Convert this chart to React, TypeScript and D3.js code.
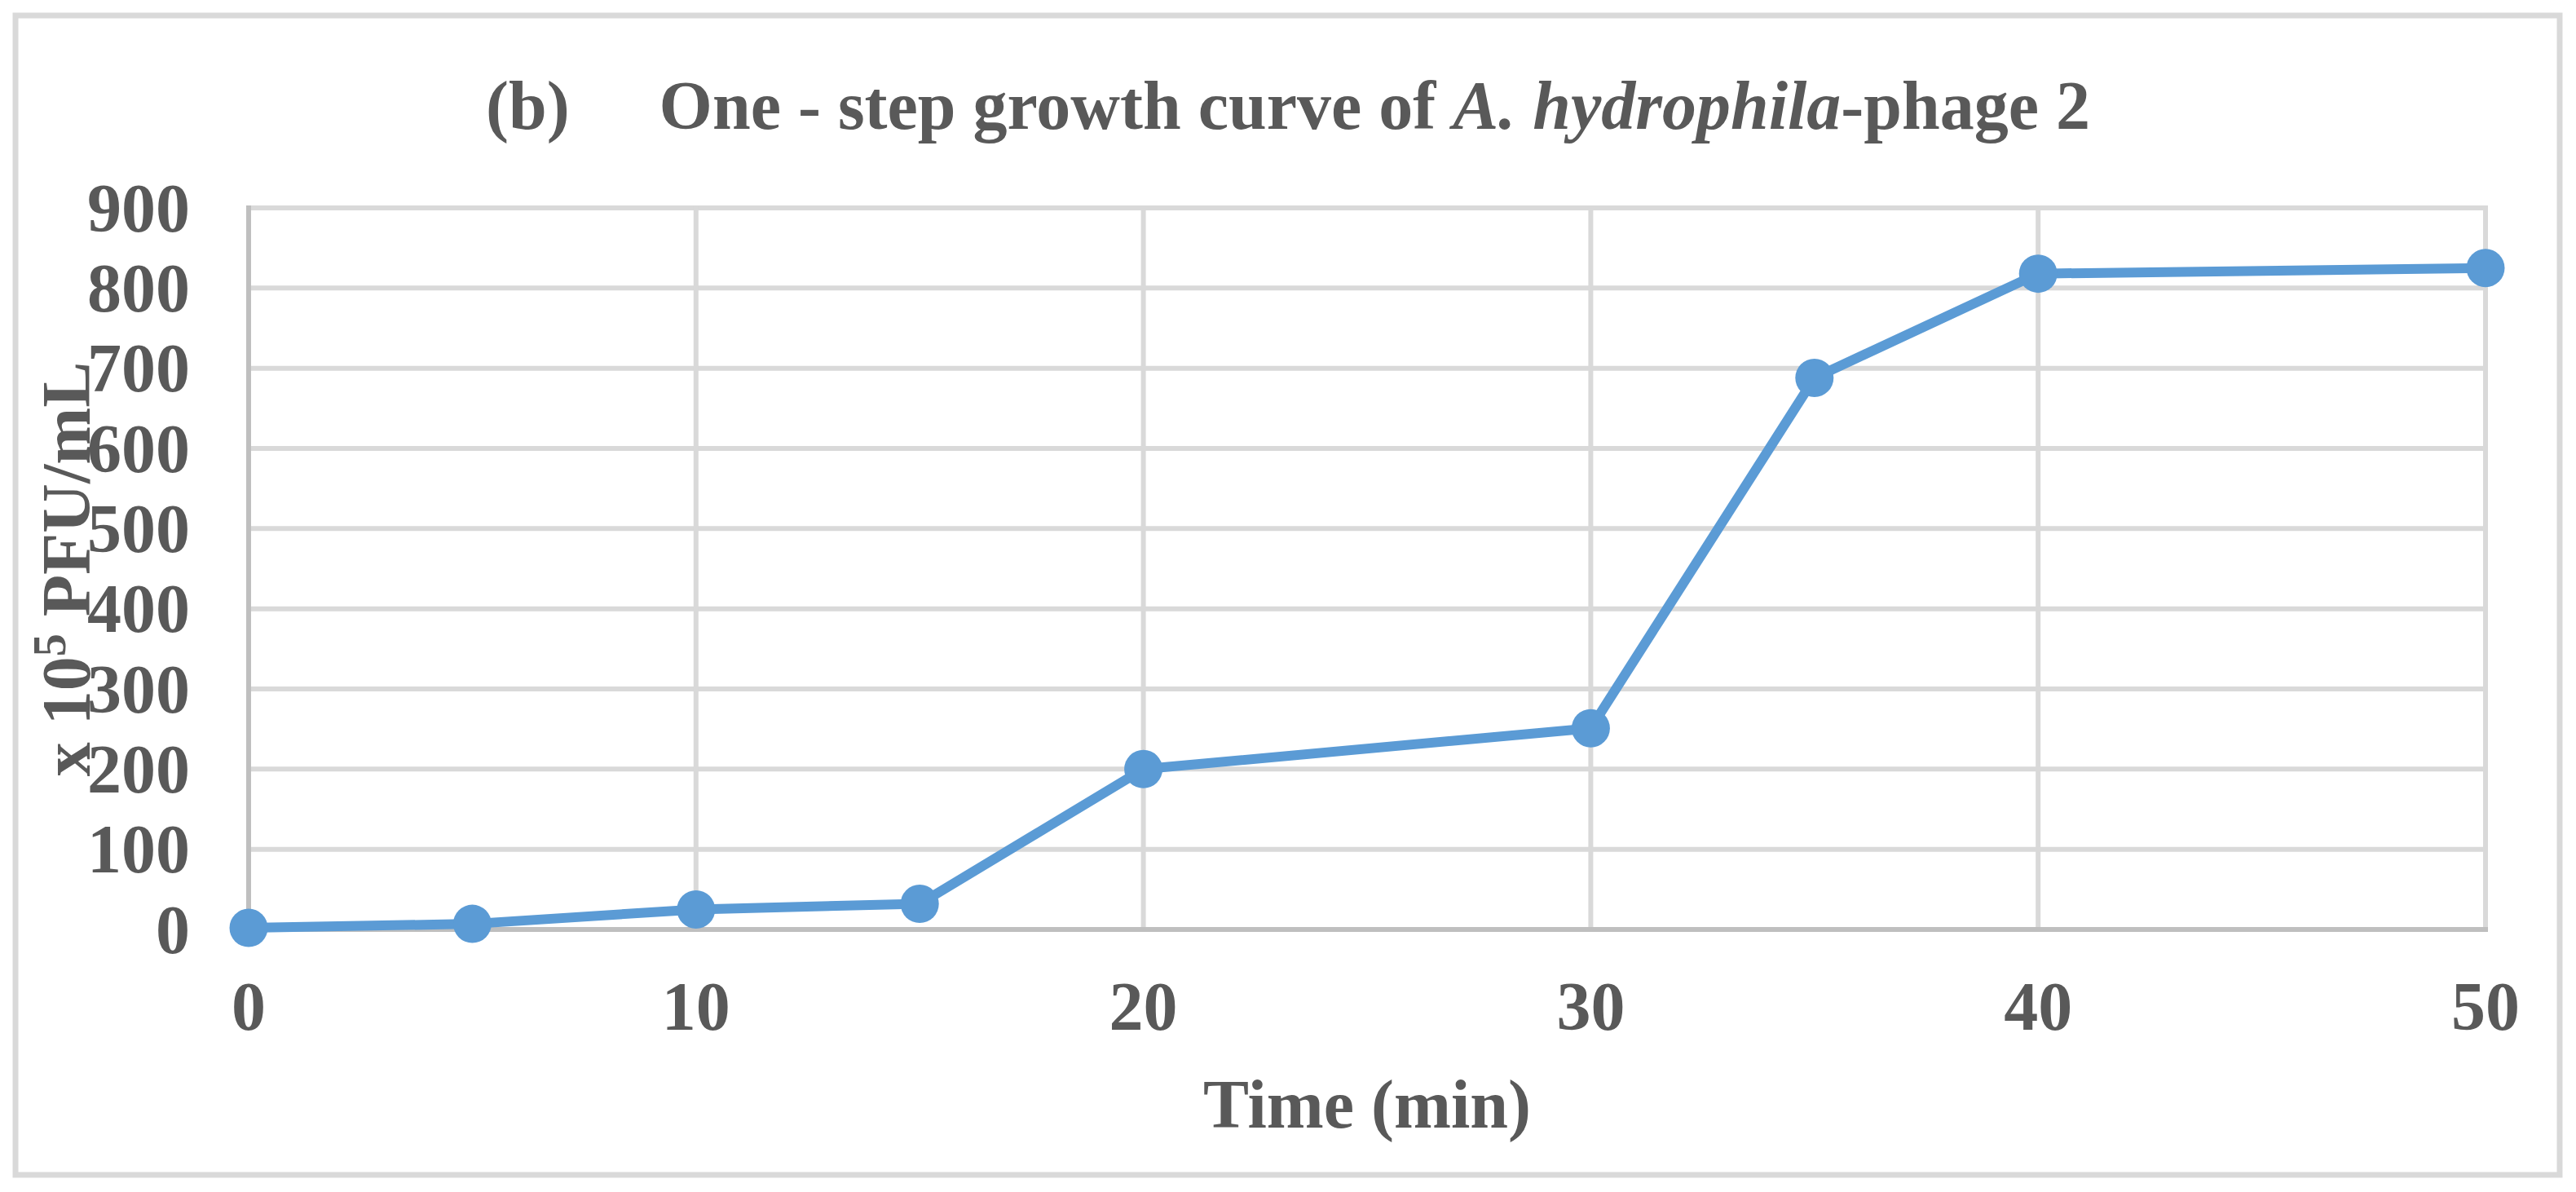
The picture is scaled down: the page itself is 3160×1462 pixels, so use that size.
import React from "react";
import * as d3 from "d3";

const times = [0, 5, 10, 15, 20, 30, 35, 40, 50];
const pfu = [2, 7, 25, 32, 200, 251, 688, 818, 825];
const xTicks = [0, 10, 20, 30, 40, 50];
const yTicks = [0, 100, 200, 300, 400, 500, 600, 700, 800, 900];

const W = 3160;
const H = 1462;
const FONT = "'Liberation Serif', 'Times New Roman', serif";
const TEXT = "#595959";
const GRID = "#d9d9d9";
const AXIS = "#bfbfbf";
const BLUE = "#5b9bd5";

export default function App() {
  const x = d3.scaleLinear().domain([0, 50]).range([305, 3049]);
  const y = d3.scaleLinear().domain([0, 900]).range([1140, 255]);
  const line = d3
    .line<number>()
    .x((_, i) => x(times[i]))
    .y((d) => y(d));
  const fs = 84;

  return (
    <svg
      width={W}
      height={H}
      style={{ position: "absolute", left: 0, top: 0, background: "#fff" }}
      fontFamily={FONT}
    >
      <rect x={0} y={0} width={W} height={H} fill="#fff" />
      <rect x={19} y={19} width={3121} height={1422} fill="none" stroke={GRID} strokeWidth={7} />

      {/* title */}
      <text x={1580} y={158} textAnchor="middle" fontSize={fs} fontWeight="bold" fill={TEXT}>
        <tspan>(b)</tspan>
        <tspan dx={110}>One - step growth curve of </tspan>
        <tspan fontStyle="italic">A. hydrophila</tspan>
        <tspan>-phage 2</tspan>
      </text>

      {/* grid */}
      {yTicks
        .filter((v) => v > 0)
        .map((v) => (
          <line key={"gy" + v} x1={x(0)} x2={x(50)} y1={y(v)} y2={y(v)} stroke={GRID} strokeWidth={6} />
        ))}
      {xTicks
        .filter((v) => v > 0)
        .map((v) => (
          <line key={"gx" + v} x1={x(v)} x2={x(v)} y1={y(900) - 3} y2={y(0)} stroke={GRID} strokeWidth={6} />
        ))}
      {/* axes */}
      <line x1={x(0)} x2={x(0)} y1={y(900) - 3} y2={y(0) + 3} stroke={AXIS} strokeWidth={6} />
      <line x1={x(0) - 3} x2={x(50) + 3} y1={y(0)} y2={y(0)} stroke={AXIS} strokeWidth={6} />

      {/* y tick labels */}
      {yTicks.map((v) => (
        <text
          key={"yl" + v}
          x={233}
          y={y(v) + 28.5}
          textAnchor="end"
          fontSize={fs}
          fontWeight="bold"
          fill={TEXT}
        >
          {v}
        </text>
      ))}
      {/* x tick labels */}
      {xTicks.map((v) => (
        <text
          key={"xl" + v}
          x={x(v)}
          y={1263}
          textAnchor="middle"
          fontSize={fs}
          fontWeight="bold"
          fill={TEXT}
        >
          {v}
        </text>
      ))}

      {/* axis titles */}
      <text x={1677} y={1383} textAnchor="middle" fontSize={fs} fontWeight="bold" fill={TEXT}>
        Time (min)
      </text>
      <text
        transform={`translate(110, 698) rotate(-90)`}
        textAnchor="middle"
        fontSize={fs}
        fontWeight="bold"
        fill={TEXT}
      >
        <tspan>x 10</tspan>
        <tspan fontSize={56} dy={-30}>5</tspan>
        <tspan dy={30}> PFU/mL</tspan>
      </text>

      {/* series */}
      <path d={line(pfu) || ""} fill="none" stroke={BLUE} strokeWidth={12} strokeLinejoin="round" />
      {pfu.map((v, i) => (
        <circle key={"m" + i} cx={x(times[i])} cy={y(v)} r={23.5} fill={BLUE} />
      ))}
    </svg>
  );
}
